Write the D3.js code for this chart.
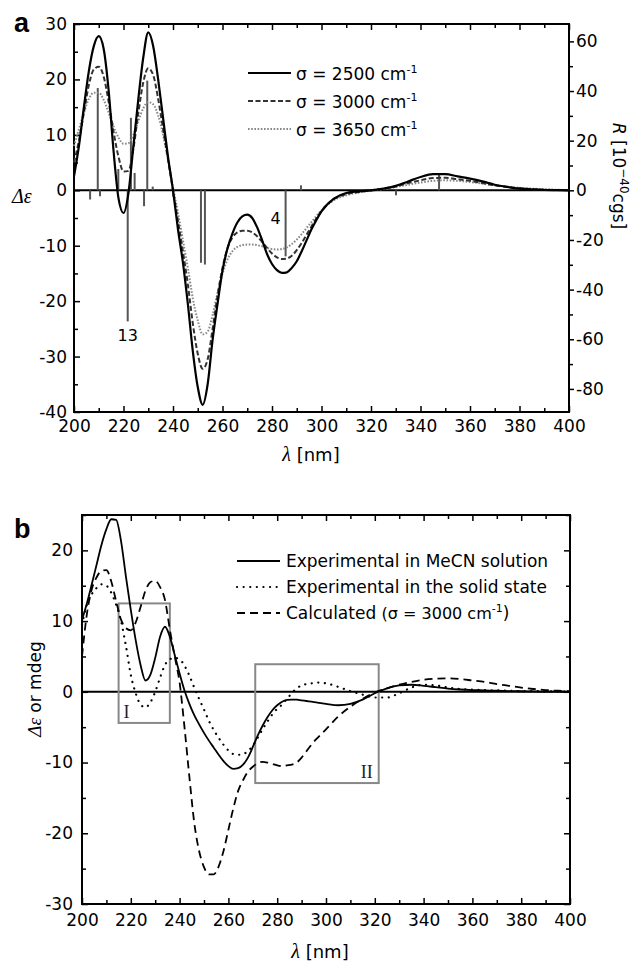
<!DOCTYPE html>
<html>
<head>
<meta charset="utf-8">
<script src="https://cdn.jsdelivr.net/npm/d3@7"></script>
<style>
body { margin: 0; background: #fff; }
</style>
</head>
<body>
<svg id="chart" width="632" height="964"></svg>
<script>
// ---- data, panel a (wavelength grid shared by all spectra) ----
const lambda = [200,202,204,206,208,210,212,214,216,218,220,222,224,226,228,230,232,234,236,238,
  240,242,244,246,248,250,252,254,256,258,260,262,264,266,268,270,272,274,276,278,
  280,282,284,286,288,290,292,294,296,298,300,
  305,310,315,320,325,330,335,340,345,350,355,360,365,370,375,380,385,390,395,400]

const sigma2500 = [2.5,8,15,21.5,26,27.8,25.5,18,7,-1.5,-4.1,-0.5,8,16.5,24,28.5,26,20,13,6,
  0,-7,-13,-20.5,-29,-35.5,-38.7,-35,-27,-20.5,-14.5,-10.5,-7.8,-5.8,-4.7,-4.4,-5,-6.7,-9,-11.5,
  -13.3,-14.4,-14.9,-14.8,-14,-12.8,-11,-9,-7,-5.3,-3.8,
  -1.5,-0.5,-0.2,0,0.3,0.8,1.6,2.4,2.9,2.9,2.5,2.1,1.6,1.0,0.6,0.3,0.15,0.05,0.02,0]

const sigma3000 = [5,9,14,19,21.8,22.3,20.5,16,10.5,6,3.4,3.5,7.5,14,19.5,22,20.8,16.5,11,5.5,
  0,-5.5,-11,-17,-24,-29.5,-32.2,-30.5,-25,-19,-14,-10.5,-8.5,-7.6,-7.3,-7.3,-7.6,-8.3,-9.3,-10.4,
  -11.4,-12.1,-12.4,-12.3,-11.8,-10.8,-9.5,-8,-6.5,-5,-3.7,
  -1.6,-0.7,-0.3,0,0.3,0.7,1.3,1.8,2.2,2.25,2,1.7,1.3,0.9,0.6,0.35,0.2,0.1,0.05,0.02]

const sigma3650 = [8,11,14,16.5,17.6,17.6,16.3,14,11.5,9.5,8.4,8.5,10,12.5,14.8,15.9,15.5,13.5,10,5.5,
  0.5,-4,-9,-14,-19.5,-23.5,-26,-25.5,-22.5,-18.5,-15,-12.5,-11,-10.2,-9.9,-9.8,-9.8,-9.9,-10.1,-10.4,
  -10.6,-10.7,-10.6,-10.3,-9.7,-8.9,-7.9,-6.8,-5.7,-4.6,-3.6,
  -1.8,-0.9,-0.4,-0.1,0.2,0.6,1.0,1.4,1.7,1.8,1.7,1.5,1.2,0.9,0.65,0.45,0.3,0.2,0.1,0.05]

// rotational strengths (stick spectrum), R in 1e-40 cgs
const stickLambda = [206.5,209.6,210.5,217.9,221.7,223.0,224.5,228.3,229.6,231.8,240.1,251.3,252.9,285.5,291.7,330.1,347.5]
const stickR      = [-3.7,41.2,-2.4,8.6,-52.8,29.2,7,-6.4,44.2,1.5,-2.5,-29.2,-29.9,-26.6,2,-2,6.7]
const stickLabels = [{ lambda: 221.7, text: "13" }, { lambda: 285.5, text: "4" }]

const legendA = ["2500", "3000", "3650"]

// ---- data, panel b ----
const expMeCN = [10.2,12.5,15.2,18,20.8,23,24.4,24.3,21.3,16.3,11.6,7.3,3.8,1.6,2.4,4.8,7.8,9.2,7.8,5.2,
  2.6,0.2,-1.7,-3.3,-4.6,-5.8,-6.9,-7.9,-8.9,-9.8,-10.5,-10.9,-10.8,-10.3,-9.3,-7.8,-6.2,-4.8,-3.6,-2.6,
  -1.9,-1.4,-1.15,-1.1,-1.1,-1.2,-1.3,-1.4,-1.5,-1.6,-1.7,
  -1.9,-1.7,-1.1,-0.2,0.5,0.9,1.0,0.85,0.65,0.45,0.33,0.25,0.2,0.15,0.1,0.08,0.05,0.03,0.02,0]

const expSolid = [9.5,12.3,13.8,14.7,15.2,15,14,12.3,10,6.5,2.4,-0.2,-1.8,-2.2,-1.5,0,2,3.8,4.6,4.8,
  4.6,3.7,2.3,0.6,-1,-2.5,-4.1,-5.4,-6.5,-7.5,-8.3,-8.8,-8.9,-8.8,-8.4,-7.6,-6.5,-5.3,-4.2,-3.2,
  -2.4,-1.8,-1.0,-0.2,0.5,0.9,1.1,1.2,1.3,1.3,1.2,
  0.7,0.1,-0.4,-0.8,-0.8,-0.2,0.6,1.0,0.9,0.6,0.4,0.3,0.25,0.2,0.15,0.1,0.1,0.05,0.05,0]

const calc3000 = [5,11,14.5,16.2,17.1,17.2,15.6,12.8,10.2,9,8.7,9.8,12,14.3,15.5,15.7,14.8,13,8.8,5,
  1.3,-5,-12,-18.5,-22.5,-24.8,-25.8,-25.8,-24.7,-22.5,-19.5,-16.5,-14,-12.5,-11.3,-10.6,-10.1,-9.9,-10,-10.2,
  -10.4,-10.5,-10.4,-10.3,-10,-9.3,-8.4,-7.5,-6.7,-6,-5.3,
  -3.5,-2.1,-1,-0.1,0.5,1,1.4,1.7,1.85,1.9,1.8,1.6,1.4,1.1,0.85,0.6,0.4,0.25,0.15,0.1]

const legendB = ["Experimental in MeCN solution", "Experimental in the solid state", "Calculated "]

// highlighted regions in panel b (data units)
const regions = [
  { label: "I",  x0: 215, x1: 236, y0: -4.4, y1: 12.5 },
  { label: "II", x0: 271, x1: 321.6, y0: -12.9, y1: 3.9 }
]

// ---------------------------------------------------------------
const svg = d3.select("#chart")
const sans = "'DejaVu Sans', Verdana, sans-serif"
const serif = "'Liberation Serif', 'Times New Roman', serif"
const plain = d => String(d)

function ticksLinear(start, stop, step) {
  const out = []
  for (let v = start; v <= stop + 1e-9; v += step) out.push(Math.round(v * 100) / 100)
  return out
}

function styleAxis(g, width) {
  g.select(".domain").remove()
  g.selectAll(".tick line").attr("stroke", "#000").attr("stroke-width", width)
  g.selectAll(".tick text").attr("fill", "#000").style("font-family", sans).style("font-size", "17px")
}

// frame, inward ticks on left/bottom/top, zero line
function drawFrame(x, y, opt) {
  const [x0, x1] = x.range()
  const [y1, y0] = y.range()
  const g = svg.append("g")

  const xMajor = ticksLinear(200, 400, 20), xMinor = ticksLinear(210, 390, 20)
  g.append("g").attr("transform", `translate(0,${y1})`)
    .call(d3.axisBottom(x).tickValues(xMajor).tickSize(-6).tickSizeOuter(0).tickPadding(opt.xPad).tickFormat(plain))
    .call(a => styleAxis(a, 1.5))
  g.append("g").attr("transform", `translate(0,${y1})`)
    .call(d3.axisBottom(x).tickValues(xMinor).tickSize(-4).tickSizeOuter(0).tickFormat(""))
    .call(a => styleAxis(a, 1.5))
  g.append("g").attr("transform", `translate(0,${y0})`)
    .call(d3.axisTop(x).tickValues(xMajor).tickSize(-6).tickSizeOuter(0).tickFormat(""))
    .call(a => styleAxis(a, 1.5))
  g.append("g").attr("transform", `translate(0,${y0})`)
    .call(d3.axisTop(x).tickValues(xMinor).tickSize(-4).tickSizeOuter(0).tickFormat(""))
    .call(a => styleAxis(a, 1.5))

  g.append("g").attr("transform", `translate(${x0},0)`)
    .call(d3.axisLeft(y).tickValues(opt.yMajor).tickSize(-6).tickSizeOuter(0).tickPadding(opt.yPad).tickFormat(plain))
    .call(a => styleAxis(a, 1.5))
  g.append("g").attr("transform", `translate(${x0},0)`)
    .call(d3.axisLeft(y).tickValues(opt.yMinor).tickSize(-4).tickSizeOuter(0).tickFormat(""))
    .call(a => styleAxis(a, 1.5))

  g.append("line")
    .attr("x1", x0).attr("x2", x1).attr("y1", y(0)).attr("y2", y(0))
    .attr("stroke", "#000").attr("stroke-width", 2)

  g.append("rect")
    .attr("x", x0).attr("y", y0).attr("width", x1 - x0).attr("height", y1 - y0)
    .attr("fill", "none").attr("stroke", "#000").attr("stroke-width", 2)
  return g
}

function drawCurve(x, y, values, style) {
  const line = d3.line()
    .x((d, i) => x(lambda[i]))
    .y(d => y(d))
    .curve(d3.curveMonotoneX)
  svg.append("path")
    .datum(values)
    .attr("d", line)
    .attr("fill", "none")
    .attr("stroke", style.color)
    .attr("stroke-width", style.width)
    .attr("stroke-dasharray", style.dash)
    .attr("stroke-linecap", style.cap || "butt")
}

// ================= panel a =================
const xA = d3.scaleLinear().domain([200, 400]).range([74, 569])
const yA = d3.scaleLinear().domain([-40, 30]).range([412, 24])
const rA = d3.scaleLinear().domain([-89.3, 67]).range([412, 24])

drawFrame(xA, yA, {
  xPad: 8, yPad: 7,
  yMajor: ticksLinear(-40, 30, 10), yMinor: ticksLinear(-35, 25, 10)
})

// right axis, rotational strength, outward ticks
svg.append("g").attr("transform", "translate(569,0)")
  .call(d3.axisRight(rA).tickValues(ticksLinear(-80, 60, 20)).tickSize(5).tickSizeOuter(0).tickPadding(2).tickFormat(plain))
  .call(a => styleAxis(a, 1.5))
svg.append("g").attr("transform", "translate(569,0)")
  .call(d3.axisRight(rA).tickValues(ticksLinear(-70, 50, 20)).tickSize(4).tickSizeOuter(0).tickFormat(""))
  .call(a => styleAxis(a, 1.5))

// sticks
svg.append("g").selectAll("line")
  .data(stickR)
  .join("line")
  .attr("x1", (d, i) => xA(stickLambda[i])).attr("x2", (d, i) => xA(stickLambda[i]))
  .attr("y1", rA(0)).attr("y2", d => rA(d))
  .attr("stroke", "#555").attr("stroke-width", 2)

stickLabels.forEach(s => {
  const i = stickLambda.indexOf(s.lambda)
  const below = stickR[i] < -40
  svg.append("text")
    .attr("x", below ? xA(s.lambda) : xA(s.lambda) - 5)
    .attr("y", below ? rA(stickR[i]) + 20 : rA(0) + 34)
    .attr("text-anchor", below ? "middle" : "end")
    .style("font-family", sans).style("font-size", "16px")
    .text(s.text)
})

drawCurve(xA, yA, sigma3650, { color: "#888", width: 2, dash: "1.6 1.6" })
drawCurve(xA, yA, sigma3000, { color: "#333", width: 2, dash: "5 2.5" })
drawCurve(xA, yA, sigma2500, { color: "#000", width: 2.2, dash: null })

// legend a
const legAStyles = [
  { color: "#000", width: 2.2, dash: null },
  { color: "#333", width: 2, dash: "5 2.5" },
  { color: "#888", width: 2, dash: "1.6 1.6" }
]
legendA.forEach((s, i) => {
  const ly = 73 + i * 28
  svg.append("line").attr("x1", 248).attr("x2", 291).attr("y1", ly).attr("y2", ly)
    .attr("stroke", legAStyles[i].color).attr("stroke-width", legAStyles[i].width)
    .attr("stroke-dasharray", legAStyles[i].dash)
  const t = svg.append("text").attr("x", 296).attr("y", ly + 7)
    .style("font-family", sans).style("font-size", "17px")
  t.append("tspan").text(`σ = ${s} cm`)
  t.append("tspan").attr("dy", -7).style("font-size", "11px").text("-1")
})

// panel a labels
svg.append("text").attr("x", 14).attr("y", 32)
  .style("font-family", "'Liberation Sans', Arial, sans-serif").style("font-size", "27px").style("font-weight", "bold").text("a")
svg.append("text").attr("x", 12).attr("y", 203)
  .style("font-family", serif).style("font-style", "italic").style("font-size", "20px").text("Δε")
const xtA = svg.append("text").attr("x", 311).attr("y", 461).attr("text-anchor", "middle")
  .style("font-family", sans).style("font-size", "18px")
xtA.append("tspan").style("font-family", serif).style("font-style", "italic").style("font-size", "20px").text("λ")
xtA.append("tspan").text(" [nm]")

const rt = svg.append("text").attr("transform", "translate(613,176) rotate(90)")
  .attr("text-anchor", "middle").style("font-family", sans).style("font-size", "17px")
rt.append("tspan").style("font-style", "italic").text("R")
rt.append("tspan").text(" [10")
rt.append("tspan").attr("dy", -7).style("font-size", "12px").text("−40")
rt.append("tspan").attr("dy", 7).text("cgs]")

// ================= panel b =================
const xB = d3.scaleLinear().domain([200, 400]).range([82, 570])
const yB = d3.scaleLinear().domain([-30, 25]).range([904, 515])

drawFrame(xB, yB, {
  xPad: 10, yPad: 9,
  yMajor: ticksLinear(-30, 20, 10), yMinor: ticksLinear(-25, 25, 10)
})
svg.append("g").attr("transform", "translate(570,0)")
  .call(d3.axisRight(yB).tickValues(ticksLinear(-30, 20, 10)).tickSize(-6).tickSizeOuter(0).tickFormat(""))
  .call(a => styleAxis(a, 1.5))
svg.append("g").attr("transform", "translate(570,0)")
  .call(d3.axisRight(yB).tickValues(ticksLinear(-25, 25, 10)).tickSize(-4).tickSizeOuter(0).tickFormat(""))
  .call(a => styleAxis(a, 1.5))

// region boxes
regions.forEach(r => {
  svg.append("rect")
    .attr("x", xB(r.x0)).attr("y", yB(r.y1))
    .attr("width", xB(r.x1) - xB(r.x0)).attr("height", yB(r.y0) - yB(r.y1))
    .attr("fill", "none").attr("stroke", "#888").attr("stroke-width", 2)
  const left = r.label === "I"
  svg.append("text")
    .attr("x", left ? xB(r.x0) + 5 : xB(r.x1) - 6)
    .attr("y", yB(r.y0) - 5)
    .attr("text-anchor", left ? "start" : "end")
    .style("font-family", serif).style("font-size", "18px").attr("fill", "#222")
    .text(r.label)
})

const bStyles = [
  { color: "#000", width: 1.8, dash: null },
  { color: "#000", width: 2.2, dash: "0.1 6.5", cap: "round" },
  { color: "#000", width: 1.8, dash: "8 5" }
]
drawCurve(xB, yB, expSolid, bStyles[1])
drawCurve(xB, yB, calc3000, bStyles[2])
drawCurve(xB, yB, expMeCN, bStyles[0])

legendB.forEach((s, i) => {
  const ly = 561 + i * 26
  svg.append("line").attr("x1", 237).attr("x2", 280).attr("y1", ly).attr("y2", ly)
    .attr("stroke", bStyles[i].color).attr("stroke-width", bStyles[i].width)
    .attr("stroke-dasharray", bStyles[i].dash).attr("stroke-linecap", bStyles[i].cap || "butt")
  const t = svg.append("text").attr("x", 286).attr("y", ly + 6)
    .style("font-family", sans).style("font-size", "17px")
  t.append("tspan").text(s)
  if (i === 2) {
    t.append("tspan").style("font-size", "16px").text("(σ = 3000 cm")
    t.append("tspan").attr("dy", -7).style("font-size", "11px").text("-1")
    t.append("tspan").attr("dy", 7).text(")")
  }
})

svg.append("text").attr("x", 14).attr("y", 538)
  .style("font-family", "'Liberation Sans', Arial, sans-serif").style("font-size", "27px").style("font-weight", "bold").text("b")

const ytB = svg.append("text").attr("transform", "translate(41,689) rotate(-90)")
  .attr("text-anchor", "middle").style("font-family", sans).style("font-size", "17px")
ytB.append("tspan").style("font-family", serif).style("font-style", "italic").style("font-size", "19px").text("Δε")
ytB.append("tspan").text(" or mdeg")

const xtB = svg.append("text").attr("x", 320).attr("y", 958).attr("text-anchor", "middle")
  .style("font-family", sans).style("font-size", "18px")
xtB.append("tspan").style("font-family", serif).style("font-style", "italic").style("font-size", "20px").text("λ")
xtB.append("tspan").text(" [nm]")
</script>
</body>
</html>
